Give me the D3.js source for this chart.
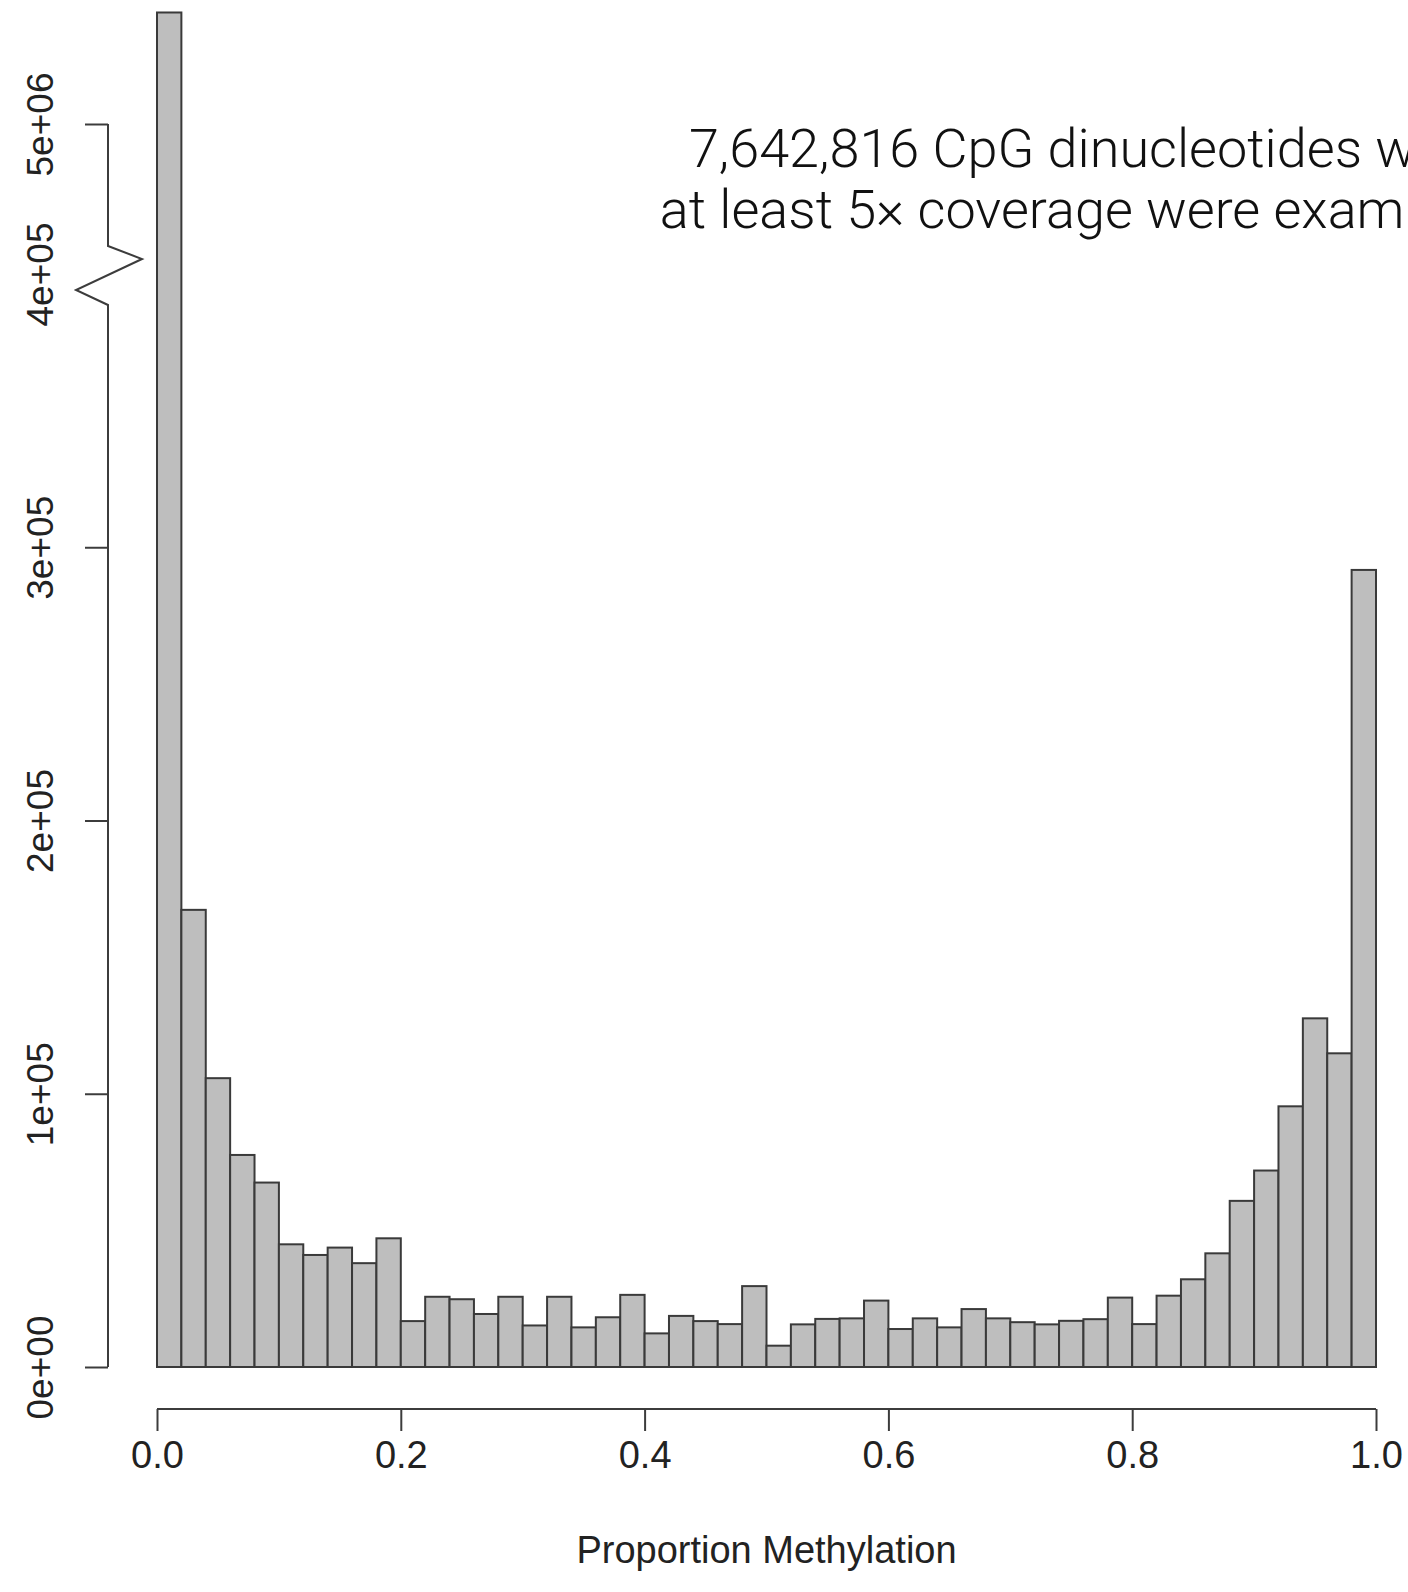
<!DOCTYPE html>
<html>
<head>
<meta charset="utf-8">
<script src="https://cdn.jsdelivr.net/npm/d3@7"></script>
<style>
  html, body { margin: 0; padding: 0; background: #fff; }
  svg { display: block; }
</style>
</head>
<body>
<div id="chart"></div>
<script>
// histogram of proportion methylation, 50 bins of width 0.02
var binStarts = d3.range(0, 50).map(function(i) { return i / 50; });
var counts = [
  5566700, 167300, 105700, 77600, 67500, 44900, 41000, 43700, 38000, 47100,
  16800, 25700, 24800, 19400, 25700, 15200, 25700, 14500, 18200, 26400,
  12300, 18700, 16800, 15700, 29600, 7800, 15600, 17600, 17800, 24300,
  13900, 17800, 14500, 21200, 17800, 16400, 15600, 16900, 17500, 25400,
  15700, 26100, 32100, 41600, 60800, 71900, 95400, 127600, 114800, 291700
];
var binWidth = 0.02;

var xTicks = [0, 0.2, 0.4, 0.6, 0.8, 1.0];
var xTickLabels = ["0.0", "0.2", "0.4", "0.6", "0.8", "1.0"];
var yTicks = [0, 100000, 200000, 300000, 400000, 5000000];
var yTickLabels = ["0e+00", "1e+05", "2e+05", "3e+05", "4e+05", "5e+06"];

var xTitle = "Proportion Methylation";
var noteLines = ["7,642,816 CpG dinucleotides with", "at least 5\u00d7 coverage were examined"];

var W = 1408, H = 1592;

// set the ranges
var x = d3.scaleLinear().domain([0, 1]).range([157, 1376]);
// broken axis: linear below 4e5, squeezed gap, then upper segment
var y = d3.scaleLinear()
  .domain([0, 400000, 4380000, 5000000])
  .range([1367, 274, 246, 124]);

var svg = d3.select("#chart")
  .append("svg")
  .attr("width", W)
  .attr("height", H);

var font = "'Liberation Sans', Arial, Helvetica, sans-serif";
var axisColor = "#3c3c3c";

// bars
svg.append("g")
  .selectAll("rect")
  .data(counts)
  .enter()
  .append("rect")
  .attr("x", function(d, i) { return x(binStarts[i]); })
  .attr("width", function(d, i) { return x(binStarts[i] + binWidth) - x(binStarts[i]); })
  .attr("y", function(d) { return y(d); })
  .attr("height", function(d) { return y(0) - y(d); })
  .attr("fill", "#bebebe")
  .attr("stroke", "#3a3a3a")
  .attr("stroke-width", 2);

// x axis
var xAxis = d3.axisBottom(x)
  .tickValues(xTicks)
  .tickSize(22)
  .tickFormat(function(d, i) { return xTickLabels[i]; });

var xg = svg.append("g")
  .attr("transform", "translate(0,1409)")
  .call(xAxis);
xg.select(".domain")
  .attr("stroke", axisColor)
  .attr("stroke-width", 2)
  .attr("d", "M" + x(0) + ",0H" + x(1));
xg.selectAll(".tick line").attr("stroke", axisColor).attr("stroke-width", 2);
xg.selectAll(".tick text")
  .attr("y", 59)
  .attr("dy", 0)
  .attr("fill", "#222")
  .style("font-family", font)
  .style("font-size", "38px");

svg.append("text")
  .attr("x", (x(0) + x(1)) / 2)
  .attr("y", 1563)
  .attr("text-anchor", "middle")
  .attr("fill", "#222")
  .style("font-family", font)
  .style("font-size", "38px")
  .text(xTitle);

// y axis
var axX = 108;
var yAxis = d3.axisLeft(y)
  .tickValues(yTicks)
  .tickSize(23)
  .tickFormat(function(d, i) { return yTickLabels[i]; });

var yg = svg.append("g")
  .attr("transform", "translate(" + axX + ",0)")
  .call(yAxis);
yg.select(".domain").remove();
yg.selectAll(".tick line")
  .attr("stroke", axisColor)
  .attr("stroke-width", 2)
  .filter(function(d) { return d === 400000; })
  .remove();
yg.selectAll(".tick text")
  .attr("x", 0)
  .attr("dy", 0)
  .attr("text-anchor", "middle")
  .attr("transform", "translate(-55,0) rotate(-90)")
  .attr("fill", "#222")
  .style("font-family", font)
  .style("font-size", "37px");

// axis line with the zigzag break
var yb = y(400000);
var breakPts = [
  [0, y(0)],
  [0, yb + 31],
  [-32, yb + 16],
  [34, yb - 15],
  [0, yb - 28],
  [0, y(5000000)]
];
svg.append("path")
  .attr("d", d3.line()(breakPts.map(function(p) { return [axX + p[0], p[1]]; })))
  .attr("fill", "none")
  .attr("stroke", axisColor)
  .attr("stroke-width", 2);

// annotation (runs off the right edge, as in the original)
var note = svg.append("text")
  .attr("text-anchor", "middle")
  .attr("fill", "#111")
  .style("font-family", "Roboto, 'Liberation Sans', sans-serif")
  .style("font-weight", 300)
  .style("font-size", "54px");
noteLines.forEach(function(t, i) {
  note.append("tspan")
    .attr("x", 1082)
    .attr("y", 167 + i * 61)
    .text(t);
});
</script>
</body>
</html>
